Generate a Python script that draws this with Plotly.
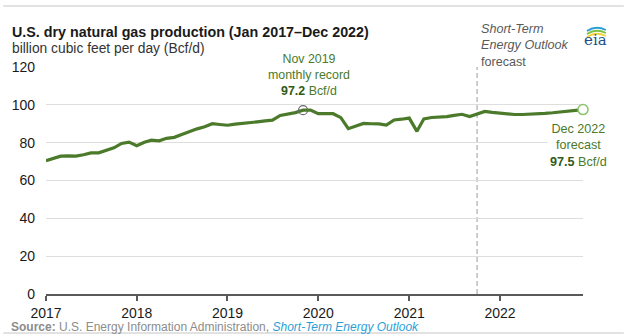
import plotly.graph_objects as go
import pandas as pd

# ---- data ----
months = pd.date_range("2017-01-01", "2022-12-01", freq="MS")
production = [
    # 2017
    70.5, 71.8, 72.9, 73.0, 72.9, 73.6, 74.6, 74.6, 75.9, 77.3, 79.6, 80.3,
    # 2018
    78.4, 80.2, 81.3, 81.0, 82.3, 82.8, 84.3, 85.9, 87.3, 88.4, 90.0, 89.6,
    # 2019
    89.2, 89.8, 90.3, 90.7, 91.0, 91.5, 91.9, 94.4, 95.2, 95.9, 97.2, 97.2,
    # 2020
    95.3, 95.2, 95.3, 93.2, 87.4, 88.8, 90.2, 90.0, 89.9, 89.3, 92.0, 92.4,
    # 2021
    93.0, 86.0, 92.6, 93.3, 93.4, 93.8, 94.4, 95.0, 93.8, 95.0, 96.5, 96.0,
    # 2022
    95.6, 95.0, 94.9, 94.9, 95.0, 95.2, 95.5, 95.8, 96.3, 96.7, 97.1, 97.5,
]
record_date = "2019-11-01"
record_value = 97.2
end_date = "2022-12-01"
end_value = 97.5
forecast_start = "2021-10-01"
y_ticks = [0, 20, 40, 60, 80, 100, 120]
x_ticks = ["2017-01-01", "2018-01-01", "2019-01-01", "2020-01-01", "2021-01-01", "2022-01-01"]
x_labels = ["2017", "2018", "2019", "2020", "2021", "2022"]

# ---- geometry helpers (pixel -> paper) ----
W, H = 624, 334
L, R, T, B = 43, 41, 67, 40
PW, PH = W - L - R, H - T - B


def px(x):
    return (x - L) / PW


def py(y):
    return (H - B - y) / PH


FONT = "Liberation Sans, Arial, sans-serif"
GREEN = "#4b7a2b"

fig = go.Figure()
fig.add_trace(go.Scatter(
    x=months, y=production, mode="lines",
    line=dict(color=GREEN, width=3.2), hoverinfo="skip", showlegend=False,
))
fig.add_trace(go.Scatter(
    x=[record_date], y=[record_value], mode="markers", cliponaxis=False,
    marker=dict(symbol="circle-open", size=9, color="#6a6a6a", line=dict(width=1.2)),
    showlegend=False, hoverinfo="skip",
))
fig.add_trace(go.Scatter(
    x=[end_date], y=[end_value], mode="markers", cliponaxis=False,
    marker=dict(symbol="circle", size=10, color="white", line=dict(width=1.5, color="#8cc46c")),
    showlegend=False, hoverinfo="skip",
))

# forecast divider
fig.add_shape(type="line", xref="x", yref="y", x0=forecast_start, x1=forecast_start,
              y0=0, y1=120, line=dict(color="#bdbdbd", width=1.5, dash="5px,3px"), layer="below")

# frame lines top and bottom
fig.add_shape(type="line", xref="paper", yref="paper", x0=px(0), x1=px(W), y0=py(6), y1=py(6),
              line=dict(color="#d9d9d9", width=1.5))
fig.add_shape(type="line", xref="paper", yref="paper", x0=px(0), x1=px(W), y0=py(333), y1=py(333),
              line=dict(color="#d9d9d9", width=1.5))

ann = []
ann.append(dict(xref="paper", yref="paper", x=px(7), y=py(32), xanchor="left", yanchor="middle",
                text="<b>U.S. dry natural gas production (Jan 2017–Dec 2022)</b>",
                font=dict(family=FONT, size=14.3, color="#1a1a1a"), showarrow=False))
ann.append(dict(xref="paper", yref="paper", x=px(7), y=py(48), xanchor="left", yanchor="middle",
                text="billion cubic feet per day (Bcf/d)",
                font=dict(family=FONT, size=13.8, color="#333333"), showarrow=False))
ann.append(dict(xref="paper", yref="paper", x=px(478), y=py(46), xanchor="left", yanchor="middle",
                align="left",
                text="<i>Short-Term</i><br><i>Energy Outlook</i><br>forecast",
                font=dict(family=FONT, size=12.6, color="#595959"), showarrow=False))
ann.append(dict(xref="paper", yref="paper", x=px(307), y=py(75), xanchor="center", yanchor="middle",
                align="center",
                text="Nov 2019<br>monthly record<br><b><span style='color:#2f5a17'>97.2</span></b> Bcf/d",
                font=dict(family=FONT, size=12.4, color="#4a7a2b"), showarrow=False,
                bgcolor="white", borderpad=2))
ann.append(dict(xref="paper", yref="paper", x=px(578), y=py(145), xanchor="center", yanchor="middle",
                align="center",
                text="Dec 2022<br>forecast<br><b><span style='color:#2f5a17'>97.5</span></b> Bcf/d",
                font=dict(family=FONT, size=12.6, color="#4a7a2b"), showarrow=False,
                bgcolor="white", borderpad=2))
ann.append(dict(xref="paper", yref="paper", x=px(6), y=py(327), xanchor="left", yanchor="middle",
                text="<b>Source:</b> U.S. Energy Information Administration, "
                     "<i><span style='color:#2a9fd6'>Short-Term Energy Outlook</span></i>",
                font=dict(family=FONT, size=12, color="#8c8c8c"), showarrow=False))
# eia logo
ann.append(dict(xref="paper", yref="paper", x=px(596), y=py(40), xanchor="center", yanchor="middle",
                text="eia", font=dict(family="DejaVu Serif, Liberation Serif, serif", size=15, color="#1d4e89"),
                showarrow=False))
for (y0, col) in [(35, "#f2d33a"), (32, "#7dc242"), (29, "#2a9fd6")]:
    fig.add_shape(type="path", xref="paper", yref="paper",
                  path=f"M {px(587)},{py(y0 + 2)} Q {px(596)},{py(y0 - 4)} {px(606)},{py(y0 + 1)}",
                  line=dict(color=col, width=1.8))

fig.update_layout(
    width=W, height=H,
    margin=dict(l=L, r=R, t=T, b=B),
    paper_bgcolor="white", plot_bgcolor="white",
    showlegend=False,
    annotations=ann,
    font=dict(family=FONT, size=14, color="#1a1a1a"),
    xaxis=dict(
        range=["2017-01-01", "2022-12-01"],
        tickvals=x_ticks, ticktext=x_labels,
        showgrid=False, showline=True, linecolor="#595959", linewidth=1.5,
        ticks="outside", ticklen=5, tickcolor="#595959", tickwidth=1.5,
        tickfont=dict(family=FONT, size=14, color="#1a1a1a"),
        zeroline=False, fixedrange=True,
    ),
    yaxis=dict(
        range=[0, 120], tickvals=y_ticks,
        showgrid=True, gridcolor="#dedede", gridwidth=1,
        zeroline=False, showline=False, ticks="",
        ticklabelstandoff=10,
        tickfont=dict(family=FONT, size=14, color="#1a1a1a"),
        fixedrange=True,
    ),
)

fig.write_html("out.html")
